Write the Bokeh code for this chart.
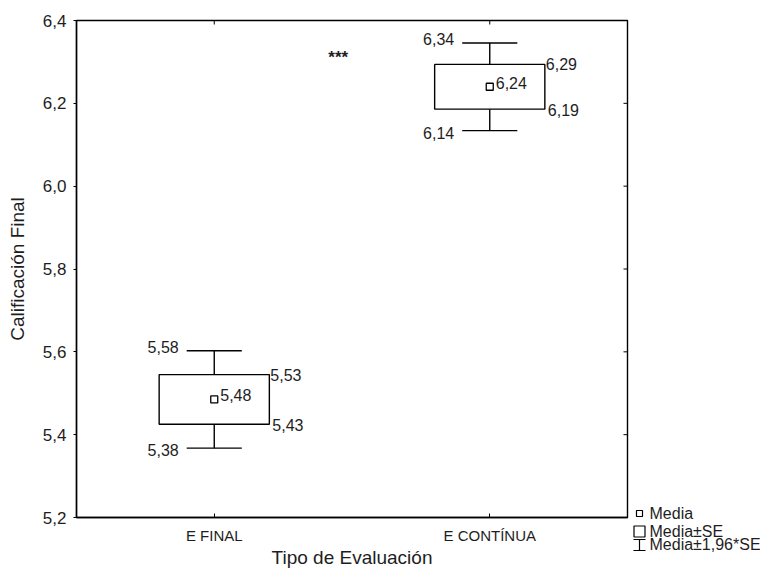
from bokeh.plotting import figure
from bokeh.models import (ColumnDataSource, FactorRange, Range1d, FixedTicker,
                          CustomJSTickFormatter)
from bokeh.layouts import row
from bokeh.core.properties import value
from bokeh.embed import file_html
from bokeh.resources import INLINE

# ---------------- data ----------------
categories = ["E FINAL", "E CONTÍNUA"]
means = [5.485, 6.24]
std_err = [0.060, 0.054]
lbl_ci_hi = ["5,58", "6,34"]
lbl_se_hi = ["5,53", "6,29"]
lbl_mean = ["5,48", "6,24"]
lbl_se_lo = ["5,43", "6,19"]
lbl_ci_lo = ["5,38", "6,14"]
y_ticks = [5.2, 5.4, 5.6, 5.8, 6.0, 6.2, 6.4]
sig_text = ["***"]
sig_y = [6.31]
legend_labels = ["Media", "Media±SE", "Media±1,96*SE"]

FONT = "Liberation Sans"
TXT = "#1e1e1e"

se_hi = [m + s for m, s in zip(means, std_err)]
se_lo = [m - s for m, s in zip(means, std_err)]
ci_hi = [m + 1.96 * s for m, s in zip(means, std_err)]
ci_lo = [m - 1.96 * s for m, s in zip(means, std_err)]

src = ColumnDataSource(dict(
    cat=categories,
    cat_l=[(c, -0.1) for c in categories],
    cat_r=[(c, 0.1) for c in categories],
    box_r=[(c, 0.2) for c in categories],
    mean=means, se_hi=se_hi, se_lo=se_lo, ci_hi=ci_hi, ci_lo=ci_lo,
    l_ci_hi=lbl_ci_hi, l_se_hi=lbl_se_hi, l_mean=lbl_mean,
    l_se_lo=lbl_se_lo, l_ci_lo=lbl_ci_lo,
))

p = figure(x_range=FactorRange(*categories), y_range=Range1d(5.2, 6.4),
           width=632, height=570, output_backend="svg", toolbar_location=None,
           min_border_left=76, min_border_top=20, min_border_bottom=50,
           min_border_right=5, frame_align=False)
p.xgrid.grid_line_color = None
p.ygrid.grid_line_color = None
p.outline_line_color = "black"
p.outline_line_width = 1.4

LINE = dict(line_color="black", line_width=1.4)
# boxes (mean ± SE)
p.vbar(x="cat", width=0.4, top="se_hi", bottom="se_lo", source=src,
       fill_color="white", **LINE)
# stems
p.segment(x0="cat", y0="se_hi", x1="cat", y1="ci_hi", source=src, **LINE)
p.segment(x0="cat", y0="se_lo", x1="cat", y1="ci_lo", source=src, **LINE)
# caps
p.segment(x0="cat_l", y0="ci_hi", x1="cat_r", y1="ci_hi", source=src, **LINE)
p.segment(x0="cat_l", y0="ci_lo", x1="cat_r", y1="ci_lo", source=src, **LINE)
# mean
p.scatter(x="cat", y="mean", source=src, marker="square", size=7,
          fill_color="white", line_color="black", line_width=1.3)

common = dict(source=src, text_font=value(FONT), text_font_size="16px",
              text_color=TXT, text_baseline="middle")
p.text(x="cat_l", y="ci_hi", text="l_ci_hi", text_align="right",
       x_offset=-8, y_offset=-4, **common)
p.text(x="box_r", y="se_hi", text="l_se_hi", text_align="left",
       x_offset=1, y_offset=0, **common)
p.text(x="cat", y="mean", text="l_mean", text_align="left",
       x_offset=6, y_offset=-4, **common)
p.text(x="box_r", y="se_lo", text="l_se_lo", text_align="left",
       x_offset=3, y_offset=1, **common)
p.text(x="cat_l", y="ci_lo", text="l_ci_lo", text_align="right",
       x_offset=-8, y_offset=2, **common)

sig_src = ColumnDataSource(dict(x=[("E FINAL", 0.45)], y=sig_y, t=sig_text))
p.text(x="x", y="y", text="t", source=sig_src, text_font=value(FONT),
       text_font_size="17px", text_color=TXT, text_align="center",
       text_baseline="middle", text_font_style="bold")

# mirror ticks on the right and top frame edges
p.scatter(x=[(categories[-1], 0.5)] * len(y_ticks), y=y_ticks, marker="dash",
          size=8, line_color="black", line_width=1)
p.scatter(x=categories, y=[y_ticks[-1]] * len(categories), marker="dash",
          angle=1.5708, size=8, line_color="black", line_width=1)

# axes
p.yaxis.ticker = FixedTicker(ticks=y_ticks)
p.yaxis.formatter = CustomJSTickFormatter(code="return tick.toFixed(1).replace('.', ',');")
for ax in (p.xaxis[0], p.yaxis[0]):
    ax.axis_line_color = "black"
    ax.axis_line_width = 1.4
    ax.major_tick_line_color = "black"
    ax.minor_tick_line_color = None
    ax.major_label_text_font = FONT
    ax.major_label_text_font_size = "15px"
    ax.major_label_text_color = TXT
    ax.axis_label_text_font = FONT
    ax.axis_label_text_font_size = "19px"
    ax.axis_label_text_font_style = "normal"
    ax.axis_label_text_color = TXT

p.yaxis.major_label_text_font_size = "17px"
p.yaxis.axis_label = "Calificación Final"
p.yaxis.major_tick_out = 3
p.yaxis.major_tick_in = 0
p.yaxis.major_label_standoff = 7
p.yaxis.axis_label_standoff = 12

p.xaxis.axis_label = "Tipo de Evaluación"
p.xaxis.major_tick_out = 0
p.xaxis.major_tick_in = 4
p.xaxis.major_label_standoff = 9
p.xaxis.axis_label_standoff = 0

# ---------------- legend panel ----------------
LW, LH = 128, 570
leg = figure(width=LW, height=LH, x_range=Range1d(0, LW), y_range=Range1d(LH, 0),
             output_backend="svg", toolbar_location=None, x_axis_type=None,
             y_axis_type=None, min_border=0, frame_align=False)
leg.xgrid.grid_line_color = None
leg.ygrid.grid_line_color = None
leg.outline_line_color = None

leg.scatter(x=[7], y=[513], marker="square", size=6, fill_color="white",
            line_color="black", line_width=1.2)
leg.scatter(x=[7], y=[531], marker="square", size=11, fill_color="white",
            line_color="black", line_width=1.2)
leg.segment(x0=[7, 1, 1], y0=[539, 539, 550], x1=[7, 13, 13], y1=[550, 539, 550],
            line_color="black", line_width=1.2)
leg.text(x=[17, 17, 17], y=[513, 531, 544], text=legend_labels,
         text_font=value(FONT), text_font_size="16px", text_color=TXT,
         text_baseline="middle", text_align="left")

layout = row(p, leg)
open("out.html", "w").write(file_html(layout, INLINE))
